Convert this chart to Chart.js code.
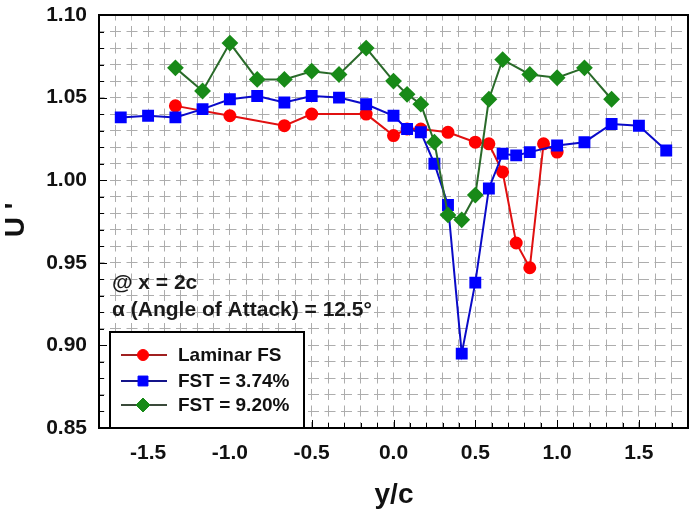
<!DOCTYPE html>
<html><head><meta charset="utf-8">
<script src="https://cdn.jsdelivr.net/npm/chart.js@4.4.0/dist/chart.umd.min.js"></script>
<style>html,body{margin:0;padding:0;background:#fff}#wrap{width:691px;height:514px}canvas{display:block}</style>
</head><body><div id="wrap"><canvas id="c" width="691" height="514"></canvas></div>
<script>
// ---- data ----
const laminarX = [-1.333,-1.0,-0.667,-0.5,-0.167,0,0.083,0.167,0.333,0.5,0.583,0.667,0.75,0.833,0.917,1.0];
const laminarY = [1.045,1.039,1.033,1.040,1.040,1.027,1.031,1.031,1.029,1.023,1.022,1.005,0.962,0.947,1.022,1.017];
const fst374X = [-1.667,-1.5,-1.333,-1.167,-1.0,-0.833,-0.667,-0.5,-0.333,-0.167,0,0.083,0.167,0.25,0.333,0.417,0.5,0.583,0.667,0.75,0.833,1.0,1.167,1.333,1.5,1.667];
const fst374Y = [1.038,1.039,1.038,1.043,1.049,1.051,1.047,1.051,1.050,1.046,1.039,1.031,1.029,1.010,0.985,0.895,0.938,0.995,1.016,1.015,1.017,1.021,1.023,1.034,1.033,1.018];
const fst920X = [-1.333,-1.167,-1.0,-0.833,-0.667,-0.5,-0.333,-0.167,0,0.083,0.167,0.25,0.333,0.417,0.5,0.583,0.667,0.833,1.0,1.167,1.333];
const fst920Y = [1.068,1.054,1.083,1.061,1.061,1.066,1.064,1.080,1.060,1.052,1.046,1.023,0.979,0.976,0.991,1.049,1.073,1.064,1.062,1.068,1.049];
const seriesNames = ['Laminar FS','FST = 3.74%','FST = 9.20%'];
const xTickLabels = ['-1.5','-1.0','-0.5','0.0','0.5','1.0','1.5'];
const yTickLabels = ['0.85','0.90','0.95','1.00','1.05','1.10'];
const xTitle = 'y/c';
const yTitle = "U '";
const noteLines = ['@ x = 2c', '\u03b1 (Angle of Attack) = 12.5\u00b0'];

const pts = (xs, ys) => xs.map((x, i) => ({x, y: ys[i]}));
const FONT = '"Liberation Sans", Arial, sans-serif';

const overlay = {
  id: 'overlay',
  afterDraw(chart) {
    const ctx = chart.ctx, ca = chart.chartArea;
    const xs = chart.scales.x, ys = chart.scales.y;
    ctx.save();
    // inner tick marks
    ctx.strokeStyle = '#000'; ctx.lineWidth = 1;
    ctx.beginPath();
    xs.ticks.forEach(t => {
      const p = Math.round(xs.getPixelForValue(t.value)) + 0.5;
      const len = t.label ? 8 : 5;
      ctx.moveTo(p, ca.bottom); ctx.lineTo(p, ca.bottom - len);
    });
    ys.ticks.forEach(t => {
      const p = Math.round(ys.getPixelForValue(t.value)) + 0.5;
      const len = t.label ? 8 : 5;
      ctx.moveTo(ca.left, p); ctx.lineTo(ca.left + len, p);
    });
    ctx.stroke();
    // frame
    ctx.lineWidth = 2; ctx.strokeStyle = '#000';
    ctx.strokeRect(ca.left, ca.top, ca.right - ca.left, ca.bottom - ca.top);
    // annotations
    ctx.fillStyle = '#1a1a1a';
    ctx.font = 'bold 21px ' + FONT;
    ctx.textBaseline = 'middle'; ctx.textAlign = 'left';
    ctx.fillText(noteLines[0], 112, 283);
    ctx.fillText(noteLines[1], 112, 310);
    // legend
    const lx = 110, ly = 332, lw = 194, lh = ca.bottom - ly;
    ctx.fillStyle = '#fff'; ctx.fillRect(lx, ly, lw, lh);
    ctx.lineWidth = 2; ctx.strokeStyle = '#000'; ctx.strokeRect(lx, ly, lw, lh);
    const rows = [355, 381, 405];
    chart.data.datasets.forEach((ds, i) => {
      const y = rows[i];
      ctx.strokeStyle = ds.legendLine; ctx.lineWidth = 2;
      ctx.beginPath(); ctx.moveTo(121, y); ctx.lineTo(167, y); ctx.stroke();
      ctx.fillStyle = ds.pointBackgroundColor; ctx.strokeStyle = ds.pointBorderColor; ctx.lineWidth = 1;
      Chart.helpers.drawPoint(ctx, {pointStyle: ds.pointStyle, radius: ds.pointRadius, borderWidth: 1, rotation: 0}, 143, y);
      ctx.fillStyle = '#111';
      ctx.font = 'bold 19px ' + FONT;
      ctx.fillText(ds.label, 178, y + 1);
    });
    // axis titles
    ctx.fillStyle = '#111';
    ctx.font = 'bold 28px ' + FONT;
    ctx.textAlign = 'center';
    ctx.fillText(xTitle, 394, 495);
    ctx.translate(16, 220); ctx.rotate(-Math.PI / 2);
    ctx.fillText(yTitle, 0, 0);
    ctx.restore();
  }
};

const dash = [11, 5.5];
new Chart(document.getElementById('c'), {
  type: 'scatter',
  data: {
    datasets: [
      {label: seriesNames[0], data: pts(laminarX, laminarY), showLine: true,
       borderColor: '#e01010', borderWidth: 2, pointStyle: 'circle', pointRadius: 5.5,
       pointBackgroundColor: '#ff0000', pointBorderColor: '#ff0000', legendLine: '#a02020', order: 3},
      {label: seriesNames[1], data: pts(fst374X, fst374Y), showLine: true,
       borderColor: '#0a0ac8', borderWidth: 2, pointStyle: 'rect', pointRadius: 7,
       pointBackgroundColor: '#0000ff', pointBorderColor: '#0000ff', legendLine: '#14148a', order: 2},
      {label: seriesNames[2], data: pts(fst920X, fst920Y), showLine: true,
       borderColor: '#2a6a2a', borderWidth: 2, pointStyle: 'rectRot', pointRadius: 7,
       pointBackgroundColor: '#188a18', pointBorderColor: '#188a18', legendLine: '#3a4a3a', order: 1}
    ]
  },
  options: {
    responsive: false, animation: false,
    layout: {autoPadding: false, padding: {top: 15, right: 3, left: 0, bottom: 0}},
    plugins: {legend: {display: false}, tooltip: {enabled: false}},
    scales: {
      x: {
        type: 'linear', min: -1.8, max: 1.8,
        afterFit: s => { s.height = 86; s.paddingLeft = 0; s.paddingRight = 0; },
        grid: {color: '#adadad', lineWidth: 1, drawTicks: false},
        border: {display: false, dash: dash, dashOffset: 5.5},
        ticks: {
          stepSize: 0.1, autoSkip: false, maxRotation: 0, padding: 13,
          color: '#111', font: {family: FONT, size: 21, weight: 'bold'},
          callback: v => { const s = (Math.round(v * 10) / 10).toFixed(1); return xTickLabels.includes(s) ? s : ''; }
        }
      },
      y: {
        type: 'linear', min: 0.85, max: 1.10,
        afterFit: s => { s.width = 99; s.paddingTop = 0; s.paddingBottom = 0; },
        grid: {color: '#adadad', lineWidth: 1, drawTicks: false},
        border: {display: false, dash: dash, dashOffset: 5.5},
        ticks: {
          stepSize: 0.01, autoSkip: false, padding: 12,
          color: '#111', font: {family: FONT, size: 21, weight: 'bold'},
          callback: v => { const s = (Math.round(v * 100) / 100).toFixed(2); return yTickLabels.includes(s) ? s : ''; }
        }
      }
    }
  },
  plugins: [overlay]
});
</script></body></html>
